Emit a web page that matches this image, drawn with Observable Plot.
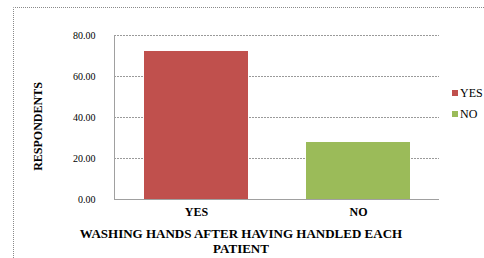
<!DOCTYPE html>
<html>
<head>
<meta charset="utf-8">
<script src="https://cdn.jsdelivr.net/npm/d3@7"></script>
<script src="https://cdn.jsdelivr.net/npm/@observablehq/plot@0.6"></script>
<style>
  html, body { margin: 0; padding: 0; background: #fff; }
  #chart { position: relative; width: 484px; height: 258px; overflow: hidden; }
  #chart svg { display: block; }
</style>
</head>
<body>
<div id="chart"></div>
<script>
const categories = ["YES", "NO"];
const values = [72.2, 27.8];
const colors = ["#c0504d", "#9bbb59"];
const yTicks = [0, 20, 40, 60, 80];
const yTitle = "RESPONDENTS";
const xTitleLines = ["WASHING HANDS AFTER HAVING HANDLED EACH", "PATIENT"];

const data = categories.map((c, i) => ({cat: c, value: values[i]}));
const FONT = "Liberation Serif, DejaVu Serif, serif";

const plot = Plot.plot({
  width: 484,
  height: 258,
  marginLeft: 114,
  marginRight: 45,
  marginTop: 35,
  marginBottom: 59,
  style: {fontSize: "11px", color: "#000", background: "transparent"},
  x: {domain: categories, paddingInner: 0.36, paddingOuter: 0.18, label: null},
  y: {domain: [0, 80], label: null},
  color: {domain: categories, range: colors},
  marks: [
    Plot.gridY(yTicks, {stroke: "#9a9a9a", strokeOpacity: 1, strokeDasharray: "2,1"}),
    Plot.barY(data, {x: "cat", y: "value", fill: "cat"}),
    Plot.ruleY([0], {stroke: "#a0a0a0"}),
    Plot.axisY({ticks: yTicks, tickFormat: d => d.toFixed(2), tickSize: 0, tickPadding: 19, label: null, fontSize: 10}),
    Plot.axisX({tickSize: 0, tickPadding: 8, label: null, fontWeight: "bold", fontSize: 12})
  ]
});

const svg = d3.select(plot);
const y = plot.scale("y");

// left axis line
svg.append("line")
  .attr("x1", 114.5).attr("x2", 114.5)
  .attr("y1", y.apply(80)).attr("y2", y.apply(0))
  .attr("stroke", "#a0a0a0");

// outer dotted border
svg.append("path")
  .attr("d", "M13.5,258 L13.5,7.5 L484,7.5")
  .attr("fill", "none")
  .attr("stroke", "#8a8a8a")
  .attr("stroke-dasharray", "1,1");

// y title
svg.append("text")
  .attr("transform", "translate(37.5,126.5) rotate(-90)")
  .attr("text-anchor", "middle")
  .attr("dy", "0.35em")
  .attr("font-weight", "bold")
  .attr("font-size", 12)
  .text(yTitle);

// x title
xTitleLines.forEach((t, i) => {
  svg.append("text")
    .attr("x", 241)
    .attr("y", 233.5 + i * 15)
    .attr("dy", "0.35em")
    .attr("text-anchor", "middle")
    .attr("font-weight", "bold")
    .attr("font-size", 13)
    .text(t);
});

// legend
const legendY = [93, 114];
categories.forEach((c, i) => {
  svg.append("rect")
    .attr("x", 452).attr("y", legendY[i] - 3)
    .attr("width", 6).attr("height", 6)
    .attr("fill", colors[i]);
  svg.append("text")
    .attr("x", 460).attr("y", legendY[i])
    .attr("dy", "0.35em")
    .attr("text-anchor", "start")
    .attr("font-size", 12)
    .text(c);
});

svg.style("font-family", FONT);
svg.selectAll("g, text").attr("font-family", FONT).style("font-family", FONT);

document.getElementById("chart").appendChild(plot);
</script>
</body>
</html>
